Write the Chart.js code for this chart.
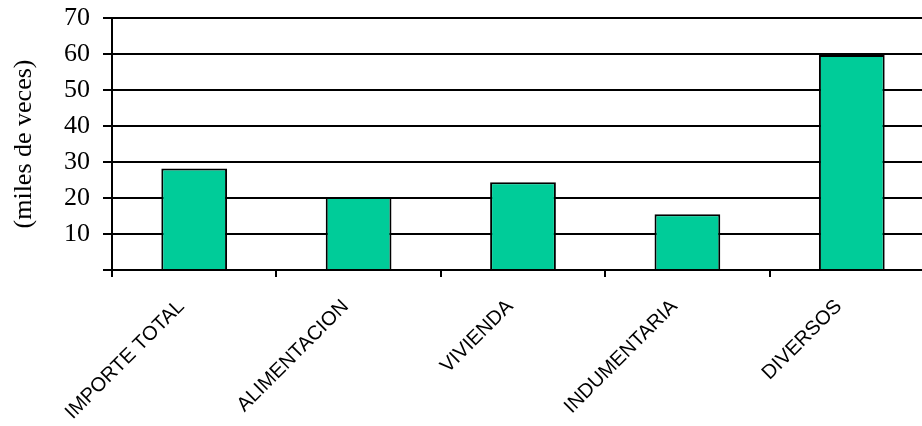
<!DOCTYPE html>
<html lang="es">

<head>
    <title>Miles de veces por rubro</title>
    <script src="https://cdn.jsdelivr.net/npm/chart.js"></script>
    <style>
        html,
        body {
            margin: 0;
            padding: 0;
            overflow: hidden;
            background: #fff;
        }

        #wrap {
            width: 934px;
            height: 426px;
        }
    </style>
</head>

<body>
    <div id="wrap"><canvas id="rubrosChart"></canvas></div>
    <script>
        const categorias = ['IMPORTE TOTAL', 'ALIMENTACION', 'VIVIENDA', 'INDUMENTARIA', 'DIVERSOS'];
        const valores = [28.2, 20.3, 24.4, 15.5, 59.7];
        const ticksY = [0, 10, 20, 30, 40, 50, 60, 70];

        const ctx = document.getElementById('rubrosChart').getContext('2d');
        new Chart(ctx, {
            type: 'bar',
            data: {
                labels: categorias,
                datasets: [{
                    label: 'miles de veces',
                    data: valores,
                    backgroundColor: '#00cc99',
                    borderColor: '#000',
                    borderWidth: 2,
                    categoryPercentage: 1,
                    barPercentage: 0.4
                }]
            },
            options: {
                responsive: true,
                maintainAspectRatio: false,
                animation: false,
                layout: { padding: { top: 18, left: 0, right: 0, bottom: 0 } },
                plugins: { legend: { display: false }, tooltip: { enabled: false } },
                scales: {
                    x: {
                        afterFit: s => { s.height = 156; s.paddingLeft = 0; s.paddingRight = 0; },
                        grid: { offset: true, drawOnChartArea: false, drawTicks: true, tickLength: 7, color: '#000', lineWidth: 2 },
                        border: { display: true, color: '#000', width: 2 },
                        ticks: {
                            color: '#000',
                            font: { family: "'Liberation Sans', Arial, sans-serif", size: 20 },
                            minRotation: 45,
                            maxRotation: 45,
                            autoSkip: false,
                            padding: 18,
                            labelOffset: -13
                        }
                    },
                    y: {
                        min: 0,
                        max: 70,
                        afterFit: s => { s.width = 112; s.paddingTop = 0; s.paddingBottom = 0; },
                        afterBuildTicks: s => { s.ticks = ticksY.map(v => ({ value: v })); },
                        grid: { color: '#000', lineWidth: 2, tickLength: 9 },
                        border: { display: true, color: '#000', width: 2 },
                        ticks: {
                            color: '#000',
                            font: { family: "'Liberation Serif', 'Times New Roman', serif", size: 26 },
                            padding: 13,
                            callback: v => v === 0 ? '' : v
                        },
                        title: {
                            display: true,
                            text: '(miles de veces)',
                            color: '#000',
                            font: { family: "'Liberation Serif', 'Times New Roman', serif", size: 26, weight: 'normal' },
                            padding: { top: 9, bottom: 0 }
                        }
                    }
                }
            }
        });
    </script>
</body>

</html>
